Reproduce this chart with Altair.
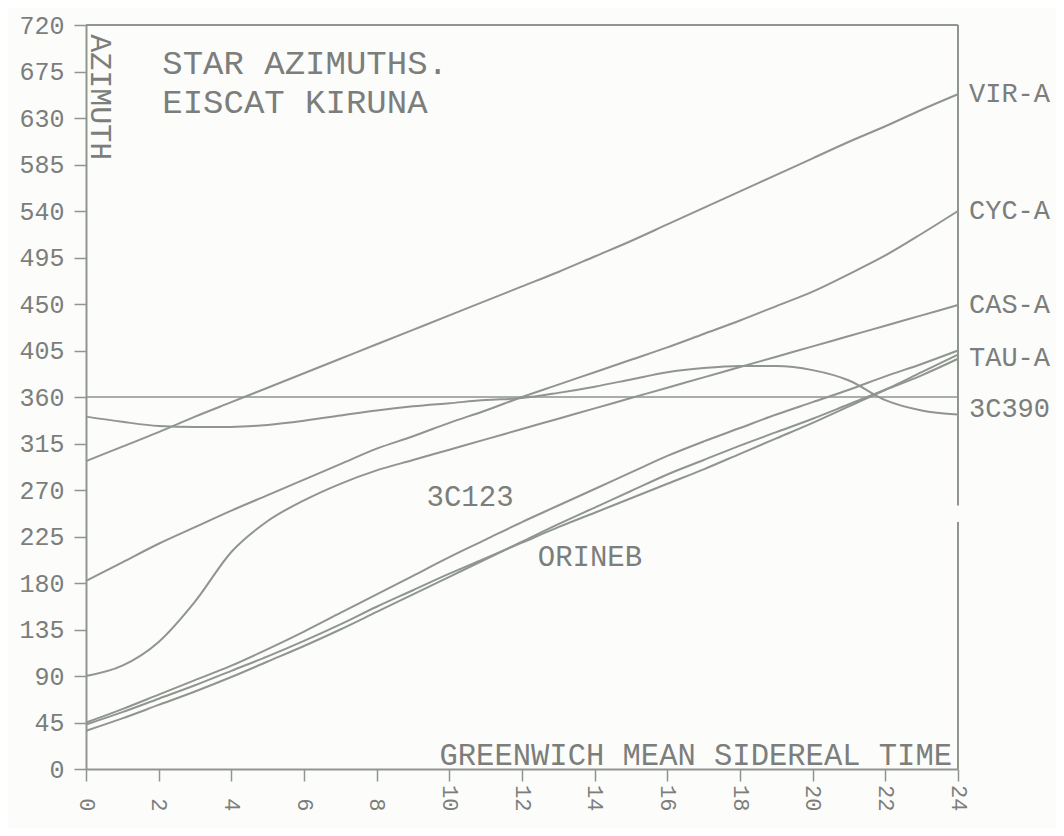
import altair as alt
import pandas as pd

LINE = "#8f958f"
TEXT = "#7b7e7b"
FONT = "Liberation Mono"

# ---- data (hour of GMST -> azimuth, degrees, unwrapped) ----
hours = list(range(25))
vir_a = [298, 312, 326, 341, 355, 369, 383, 397, 411, 425, 439, 453, 467,
         481, 496, 511, 527, 543, 559, 575, 591, 607, 622, 638, 653]
cyc_a = [182, 200, 218, 234, 250, 265, 280, 295, 310, 322, 335, 347, 360,
         372, 384, 396, 408, 421, 434, 448, 462, 479, 497, 518, 540]
cas_a = [90, 100, 123, 162, 210, 240, 260, 276, 289, 299, 309, 319, 329,
         339, 349, 359, 369, 379, 389, 399, 409, 419, 429, 439, 449]
c3_390 = [341, 336, 332, 331, 331, 333, 337, 342, 347, 351, 354, 357, 359,
          364, 370, 377, 384, 388, 390, 390, 386, 376, 357, 347, 343]
c3_123 = [45, 58, 72, 86, 100, 116, 133, 151, 169, 187, 205, 222, 239,
          255, 271, 287, 303, 317, 330, 343, 355, 367, 380, 392, 405]
tau_a = [37, 49, 62, 75, 89, 104, 119, 135, 152, 169, 186, 203, 220,
         237, 253, 269, 285, 299, 313, 326, 339, 353, 367, 381, 397]
orineb = [43, 55, 68, 81, 95, 109, 124, 140, 157, 173, 189, 204, 219,
          234, 248, 262, 276, 290, 305, 320, 335, 351, 367, 384, 401]

series = {
    "VIR-A": vir_a, "CYC-A": cyc_a, "CAS-A": cas_a, "3C390": c3_390,
    "3C123": c3_123, "TAU-A": tau_a, "ORINEB": orineb,
}

end_labels = ["VIR-A", "CYC-A", "CAS-A", "TAU-A", "3C390"]
end_label_az = [653, 540, 449, 398, 348]

x_ticks = list(range(0, 25, 2))
y_ticks = list(range(0, 721, 45))

title_lines = ["STAR AZIMUTHS.", "EISCAT KIRUNA"]
title_az = [673, 635]
title_t = 2.1

rows = [{"t": h, "az": v, "star": s} for s, vals in series.items() for h, v in zip(hours, vals)]
df = pd.DataFrame(rows)

xs = alt.Scale(domain=[0, 24], nice=False, zero=False)
ys = alt.Scale(domain=[0, 720], nice=False, zero=False)

x_axis = alt.Axis(values=x_ticks, title=None, grid=False, labelAngle=90, labelAlign="right",
                  labelBaseline="middle", labelPadding=30, tickSize=12, tickWidth=1.5,
                  tickColor=LINE, domainColor=LINE, domainWidth=2, labelFont=FONT,
                  labelFontSize=22, labelColor=TEXT, labelFlush=False, labelOverlap=False)
y_axis = alt.Axis(values=y_ticks, title=None, grid=False, tickSize=12, tickWidth=1.5,
                  tickColor=LINE, domainColor=LINE, domainWidth=2, labelFont=FONT,
                  labelFontSize=25, labelColor=TEXT, labelPadding=10, labelFlush=False,
                  labelOverlap=False)

lines = alt.Chart(df).mark_line(interpolate="monotone", strokeWidth=2, color=LINE).encode(
    x=alt.X("t:Q", scale=xs, axis=x_axis),
    y=alt.Y("az:Q", scale=ys, axis=y_axis),
    detail="star:N",
)

frame_df = pd.DataFrame([
    {"x": 0, "x2": 24, "y": 720, "y2": 720, "w": 2},
    {"x": 0, "x2": 24, "y": 360, "y2": 360, "w": 1.3},
    {"x": 24, "x2": 24, "y": 720, "y2": 255, "w": 2},
    {"x": 24, "x2": 24, "y": 239, "y2": 0, "w": 2},
])
frame = alt.Chart(frame_df).mark_rule(color=LINE).encode(
    x=alt.X("x:Q", scale=xs), x2="x2:Q",
    y=alt.Y("y:Q", scale=ys), y2="y2:Q",
    strokeWidth=alt.StrokeWidth("w:Q", scale=None),
)

lab_df = pd.DataFrame({"t": [24] * len(end_labels), "az": end_label_az, "txt": end_labels})
end_text = alt.Chart(lab_df).mark_text(align="left", baseline="middle", dx=11, font=FONT,
                                       fontSize=27, color=TEXT).encode(
    x=alt.X("t:Q", scale=xs), y=alt.Y("az:Q", scale=ys), text="txt:N")

title_df = pd.DataFrame({"t": [title_t] * 2, "az": title_az, "txt": title_lines})
title_text = alt.Chart(title_df).mark_text(align="left", baseline="alphabetic", font=FONT,
                                           fontSize=34, color=TEXT).encode(
    x=alt.X("t:Q", scale=xs), y=alt.Y("az:Q", scale=ys), text="txt:N")

inner_df = pd.DataFrame({"t": [10.57, 13.87], "az": [263, 205], "txt": ["3C123", "ORINEB"]})
inner_text = alt.Chart(inner_df).mark_text(align="center", baseline="middle", font=FONT,
                                           fontSize=29, color=TEXT).encode(
    x=alt.X("t:Q", scale=xs), y=alt.Y("az:Q", scale=ys), text="txt:N")

ylab_df = pd.DataFrame({"t": [0.13], "az": [711], "txt": ["AZIMUTH"]})
ylab_text = alt.Chart(ylab_df).mark_text(align="left", baseline="alphabetic", angle=90, font=FONT,
                                         fontSize=30, color=TEXT).encode(
    x=alt.X("t:Q", scale=xs), y=alt.Y("az:Q", scale=ys), text="txt:N")

xlab_df = pd.DataFrame({"t": [24], "az": [4], "txt": ["GREENWICH MEAN SIDEREAL TIME"]})
xlab_text = alt.Chart(xlab_df).mark_text(align="right", baseline="alphabetic", dx=-6, font=FONT,
                                         fontSize=30.5, color=TEXT).encode(
    x=alt.X("t:Q", scale=xs), y=alt.Y("az:Q", scale=ys), text="txt:N")

chart = alt.layer(lines, frame, end_text, title_text, inner_text, ylab_text, xlab_text).properties(
    width=872, height=744,
    autosize=alt.AutoSizeParams(type="none"),
    padding={"left": 78, "top": 17, "right": 98, "bottom": 59},
).configure(background="#fcfcfb").configure_view(stroke=None)

chart.save("out.html", embed_options={"renderer": "svg", "actions": False})
